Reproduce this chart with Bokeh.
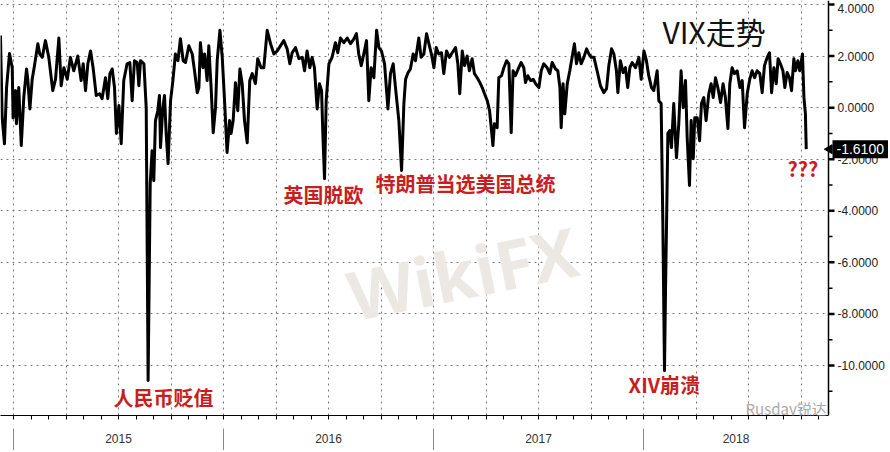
import math
from bokeh.plotting import figure
from bokeh.models import (Range1d, LinearAxis, FixedTicker, Label, Grid, Span,
                          CustomJSTickFormatter)
from bokeh.core.properties import value
from bokeh.embed import file_html
from bokeh.resources import INLINE

# ---------------- data (decimal year, value) ----------------
t = [2014.938, 2014.946, 2014.957, 2014.967, 2014.981, 2014.994, 2014.998, 2015.010, 2015.014, 2015.025,
     2015.037, 2015.049, 2015.062, 2015.068, 2015.078, 2015.089, 2015.100, 2015.116, 2015.125, 2015.137,
     2015.152, 2015.168, 2015.187, 2015.200, 2015.216, 2015.227, 2015.240, 2015.256, 2015.271, 2015.287,
     2015.306, 2015.322, 2015.332, 2015.343, 2015.354, 2015.367, 2015.379, 2015.394, 2015.410, 2015.422,
     2015.438, 2015.449, 2015.459, 2015.470, 2015.481, 2015.490, 2015.502, 2015.513, 2015.525, 2015.541,
     2015.554, 2015.565, 2015.576, 2015.589, 2015.597, 2015.605, 2015.621, 2015.632, 2015.641, 2015.651,
     2015.660, 2015.668, 2015.676, 2015.687, 2015.695, 2015.700, 2015.711, 2015.719, 2015.727, 2015.736,
     2015.748, 2015.759, 2015.771, 2015.783, 2015.795, 2015.808, 2015.819, 2015.835, 2015.851, 2015.862,
     2015.875, 2015.883, 2015.890, 2015.902, 2015.910, 2015.922, 2015.930, 2015.941, 2015.951, 2015.962,
     2015.970, 2015.983, 2015.994, 2016.005, 2016.017, 2016.029, 2016.036, 2016.046, 2016.057, 2016.068,
     2016.078, 2016.089, 2016.100, 2016.113, 2016.125, 2016.137, 2016.152, 2016.163, 2016.179, 2016.192,
     2016.208, 2016.224, 2016.240, 2016.256,
     2016.287, 2016.303, 2016.316, 2016.327, 2016.343, 2016.359, 2016.375, 2016.386, 2016.398, 2016.411,
     2016.422, 2016.433, 2016.446, 2016.457, 2016.467, 2016.473, 2016.481, 2016.489, 2016.502, 2016.517,
     2016.533, 2016.544, 2016.557, 2016.573, 2016.589, 2016.605, 2016.621, 2016.633, 2016.644, 2016.656,
     2016.668, 2016.681, 2016.692, 2016.703, 2016.716, 2016.729, 2016.740, 2016.752, 2016.767, 2016.783,
     2016.795, 2016.808, 2016.819, 2016.835, 2016.848, 2016.859, 2016.867, 2016.879, 2016.890, 2016.903,
     2016.914, 2016.930, 2016.941, 2016.954, 2016.967, 2016.978, 2016.990, 2017.002, 2017.013, 2017.025,
     2017.038, 2017.049, 2017.062, 2017.076, 2017.089, 2017.105, 2017.116, 2017.125, 2017.137, 2017.148,
     2017.160, 2017.171, 2017.184, 2017.195, 2017.208, 2017.221, 2017.232, 2017.243, 2017.256, 2017.267,
     2017.275, 2017.283, 2017.290, 2017.303, 2017.311, 2017.324, 2017.335, 2017.348, 2017.359, 2017.370,
     2017.379, 2017.390, 2017.406, 2017.417, 2017.430, 2017.438, 2017.449, 2017.462, 2017.475, 2017.486,
     2017.502, 2017.513, 2017.525, 2017.541,
     2017.554, 2017.565, 2017.581, 2017.592, 2017.602, 2017.608, 2017.617, 2017.625, 2017.637, 2017.649,
     2017.660, 2017.671, 2017.681, 2017.692, 2017.703, 2017.716, 2017.729, 2017.740, 2017.751, 2017.764,
     2017.779, 2017.795, 2017.811, 2017.824, 2017.835, 2017.848, 2017.859, 2017.871, 2017.878, 2017.890,
     2017.903, 2017.914, 2017.925, 2017.935, 2017.946, 2017.962, 2017.978, 2017.989, 2018.002, 2018.014,
     2018.025, 2018.038, 2018.049, 2018.065, 2018.073, 2018.084, 2018.092, 2018.100, 2018.105, 2018.110,
     2018.116, 2018.125, 2018.133, 2018.144, 2018.157, 2018.168, 2018.179, 2018.189, 2018.200, 2018.208,
     2018.219, 2018.227, 2018.237, 2018.244, 2018.256, 2018.267, 2018.276, 2018.287, 2018.298, 2018.311,
     2018.322, 2018.332, 2018.343, 2018.354, 2018.367, 2018.379, 2018.390, 2018.402, 2018.411, 2018.422,
     2018.433, 2018.446, 2018.459, 2018.470, 2018.481, 2018.494, 2018.506, 2018.517, 2018.529, 2018.541,
     2018.554, 2018.565, 2018.576, 2018.589, 2018.600, 2018.610, 2018.621, 2018.632, 2018.641, 2018.652,
     2018.664, 2018.673, 2018.684, 2018.695, 2018.705, 2018.716, 2018.724, 2018.735, 2018.744, 2018.757,
     2018.764, 2018.771, 2018.775]

vix = [2.8, -0.39, -1.4, 0.78, 2.1, 1.55, -0.4, 0.66, -0.62, 0.78,
       -1.47, 0.4, 1.5, 1.1, -0.05, 1.1, 1.63, 2.48, 2.08, 1.95,
       2.6, 1.95, 0.66, 1.1, 2.7, 0.85, 1.55, 1.1, 1.95, 1.43,
       2.0, 1.05, 1.7, 0.66, 1.7, 2.2, 1.55, 0.47, 0.54, 0.35,
       1.16, 0.35, 1.32, 1.5, 0.78, -1.0, 0.08, -1.4, 1.05, 1.7,
       1.75, 0.27, 1.82, 1.75, 0.85, 1.82, 1.7, 0.0, -10.58, -2.95,
       -1.67, -2.83, -0.5, -0.12, 0.47, -1.55, 0.0, 0.47, -1.0, -2.17,
       0.27, 1.05, 2.08, 1.82, 2.67, 1.82, 1.75, 2.4, 2.08, 1.43,
       0.58, 0.78, 2.52, 1.55, 2.08, 1.05, 2.4, 0.78, -0.97, 0.0,
       1.82, 3.0, 1.95, 0.27, -1.74, -0.5, -1.0, -0.5, 0.97, -0.12,
       1.5, 0.93, -0.5, -1.36, 1.05, 1.32, 0.93, 1.9, 1.55, 1.55,
       3.0, 2.48, 2.08, 2.2,
       2.6, 2.28, 1.7, 2.13, 2.33, 1.9, 1.95, 1.43, 2.2, 1.55,
       1.95, 1.55, -0.05, 0.93, 0.66, -1.0, -2.76, 0.27, 1.7, 1.95,
       2.52, 2.13, 2.7, 2.52, 2.7, 2.48, 2.67, 2.87, 2.08, 1.63,
       2.08, 2.6, 0.27, 1.55, 1.16, 3.0, 2.33, 2.2, 1.7, -0.05,
       1.32, 1.7, 0.78, -0.5, -2.44, 0.16, 1.1, 1.36, 1.5, 2.08,
       1.82, 2.7, 1.95, 2.08, 2.87, 2.48, 2.08, 1.55, 2.33, 2.08,
       2.13, 1.32, 2.2, 1.95, 2.13, 2.33, 1.7, 0.54, 2.2, 1.63,
       2.0, 1.43, 1.9, 1.32, 1.16, 0.97, 0.78, 0.54, 0.27, -0.12,
       -0.78, -1.47, -0.62, -0.78, 1.16, 1.24, 1.55, 1.82, 1.7, -0.97,
       1.43, 1.24, 1.55, 1.75, 1.55, 0.97, 1.24, 1.05, 1.1, 0.93,
       0.78, 1.43, 1.7, 1.55,
       1.32, 1.75, 1.5, 1.43, 0.78, -0.78, 0.93, -0.24, 0.93, 1.43,
       1.95, 2.48, 1.7, 2.13, 1.7, 1.95, 2.28, 2.08, 1.95, 1.95,
       1.43, 0.85, 0.58, 0.74, 1.63, 2.28, 2.08, 1.43, 0.58, 1.82,
       1.36, 1.55, 0.78, 1.55, 1.75, 1.55, 1.95, 1.1, 2.2, 1.82,
       1.24, 0.78, 0.66, 1.43, 0.27, 0.16, -4.38, -10.2, -6.98, -4.38,
       -1.0, -0.89, -1.55, 0.16, -1.94, -0.62, 1.43, 0.0, 1.05, -1.16,
       -3.02, -0.5, -1.98, -0.39, -0.39, -1.28, 0.16, 0.39, -0.5, 0.54,
       0.93, 0.39, 1.16, 0.78, 0.2, 0.93, 0.39, -0.81, 0.93, 1.55,
       1.32, 1.43, 0.78, 1.05, -0.78, 0.54, 1.1, 1.43, 1.16, 1.43,
       1.32, 0.58, 1.63, 1.95, 2.13, 0.58, 1.55, 0.93, 1.9, 1.7,
       1.43, 0.78, 1.36, 1.16, 0.66, 1.9, 1.43, 1.82, 1.43, 2.08,
       0.39, -0.24, -1.61]

years = [2015, 2016, 2017, 2018]
year_labels = ["2015", "2016", "2017", "2018"]
y_major = [-10, -8, -6, -4, -2, 0, 2, 4]
y_minor = [-11, -9, -7, -5, -3, -1, 1, 3]
last_value = -1.61
last_label = "-1.6100"
chart_title = "VIX走势"
event_labels = ["人民币贬值", "英国脱欧", "特朗普当选美国总统", "XIV崩溃", "???"]

# ---------------- geometry ----------------
W, H = 888, 450
PX_PER_YEAR = 210.0
X0 = 2015 - 13 / PX_PER_YEAR         # left edge of the frame
X1 = X0 + W / PX_PER_YEAR            # right edge of the canvas
X_AX = 2015 + 815 / PX_PER_YEAR      # position of the value axis line
PX_PER_UNIT = 361 / 14.0
Y1 = 4 + 4 / PX_PER_UNIT
Y0 = Y1 - 415 / PX_PER_UNIT

p = figure(width=W, height=H, output_backend="svg", toolbar_location=None,
           x_range=Range1d(X0, X1), y_range=Range1d(Y0, Y1),
           x_axis_location=None, y_axis_location=None,
           min_border_left=0, min_border_top=0, min_border_right=0, min_border_bottom=H - 415,
           outline_line_color=None, background_fill_color="white", border_fill_color="white")

for g in p.grid:
    g.visible = False

quarters = [y + q * 0.25 for y in range(2015, 2019) for q in range(4)]
months = [y + m / 12 for y in range(2014, 2019) for m in range(12)]
months = [m for m in months if X0 <= m <= X_AX]

GRID_COLOR = "#7a7a7a"
xgrid = Grid(dimension=0, ticker=FixedTicker(ticks=quarters), grid_line_color=GRID_COLOR,
             grid_line_dash="2 4", grid_line_width=1)
p.add_layout(xgrid)
try:
    ygrid = Grid(dimension=1, ticker=FixedTicker(ticks=y_major), grid_line_color=GRID_COLOR,
                 grid_line_dash="2 4", grid_line_width=1, cross_bounds=(X0, X_AX))
    p.add_layout(ygrid)
except Exception:
    p.segment(x0=[X0] * len(y_major), y0=y_major, x1=[X_AX] * len(y_major), y1=y_major,
              line_color=GRID_COLOR, line_dash="2 4", line_width=1)

# bottom time axis: line + month ticks
xaxis = LinearAxis(ticker=FixedTicker(ticks=[], minor_ticks=months), bounds=(X0, X_AX))
xaxis.axis_line_color = "black"
xaxis.axis_line_width = 1.2
xaxis.major_tick_in = 0
xaxis.major_tick_out = 4
xaxis.minor_tick_in = 0
xaxis.minor_tick_out = 4
xaxis.minor_tick_line_color = "black"
xaxis.major_label_standoff = 0
p.add_layout(xaxis, "below")

# invisible spacer between the time axis and the year band
spacer = LinearAxis(ticker=FixedTicker(ticks=[], minor_ticks=months))
spacer.axis_line_color = None
spacer.major_tick_in = 0
spacer.major_tick_out = 0
spacer.minor_tick_in = 0
spacer.minor_tick_out = 9
spacer.minor_tick_line_color = None
spacer.major_label_standoff = 0
p.add_layout(spacer, "below")

# year band axis: labels centred in each year, separators at year boundaries
year_centres = [(y + min(y + 1, X_AX)) / 2 for y in years]
yr_axis = LinearAxis(ticker=FixedTicker(ticks=year_centres, minor_ticks=years),
                     formatter=CustomJSTickFormatter(code="return String(Math.floor(tick))"))
yr_axis.axis_line_color = None
yr_axis.major_tick_line_color = None
yr_axis.major_tick_in = 0
yr_axis.major_tick_out = 0
yr_axis.minor_tick_in = 0
yr_axis.minor_tick_out = 22
yr_axis.minor_tick_line_color = "#8a8a8a"
yr_axis.minor_tick_line_width = 1
yr_axis.major_label_standoff = -17
yr_axis.major_label_text_font = "Liberation Sans"
yr_axis.major_label_text_font_size = "12px"
yr_axis.major_label_text_color = "#333333"
p.add_layout(yr_axis, "below")

# value axis on the right (inside the canvas so the last-value box can overlap it)
p.add_layout(Span(location=X_AX, dimension="height", line_color="black", line_width=1.5))
maj_len = 6 / PX_PER_YEAR
min_len = 4 / PX_PER_YEAR
p.segment(x0=[X_AX] * len(y_major), y0=y_major, x1=[X_AX + maj_len] * len(y_major), y1=y_major,
          line_color="black", line_width=2.5)
p.segment(x0=[X_AX] * len(y_minor), y0=y_minor, x1=[X_AX + min_len] * len(y_minor), y1=y_minor,
          line_color="black", line_width=1.5)
label_shift = [4 if v == max(y_major) else 0 for v in y_major]
p.text(x=[X_AX + 9 / PX_PER_YEAR] * len(y_major), y=y_major, y_offset=label_shift,
       text=["%.4f" % v for v in y_major], text_align="left", text_baseline="middle",
       text_font=value("Liberation Sans"), text_font_size="12px", text_color="#222222")

# data line
p.line(t, vix, line_color="black", line_width=3, line_join="round")

# watermark-like texts
p.add_layout(Label(x=2017.138, y=-6.39, text="WikiFX", text_align="center", text_baseline="middle",
                   angle=0.2, text_font="Open Sans", text_font_style="bold", text_font_size="68px",
                   text_color="#ece9e5"))
p.add_layout(Label(x=2018.486, y=-11.68, text="Rusday锐达", text_align="left", text_baseline="middle",
                   text_font="Noto Sans CJK SC", text_font_size="15px", text_color="#aaaaaa"))

# title
p.add_layout(Label(x=2018.090, y=2.99, text=chart_title, text_align="left", text_baseline="middle",
                   text_font="Noto Sans CJK SC", text_font_size="30px", text_color="#111111"))

# event annotations
event_pos = [(2015.476, -11.24), (2016.286, -3.37), (2016.724, -2.94), (2017.929, -10.74), (2018.686, -2.36)]
for lab, (ex, ey) in zip(event_labels, event_pos):
    p.add_layout(Label(x=ex, y=ey, text=lab, text_align="left", text_baseline="middle",
                       text_font="Noto Sans CJK SC", text_font_style="bold", text_font_size="20px",
                       text_color="#c81e1e"))

# last value marker + box
p.scatter(x=[X_AX + 1 / PX_PER_YEAR], y=[last_value], marker="triangle", angle=math.pi / 2,
          size=9, fill_color="black", line_color="black")
p.add_layout(Label(x=X_AX + 4 / PX_PER_YEAR, y=last_value, text=last_label, text_align="left",
                   text_baseline="middle", text_font="Liberation Sans", text_font_size="14px",
                   text_color="white", background_fill_color="black", padding=4))

open("out.html", "w").write(file_html(p, INLINE))
